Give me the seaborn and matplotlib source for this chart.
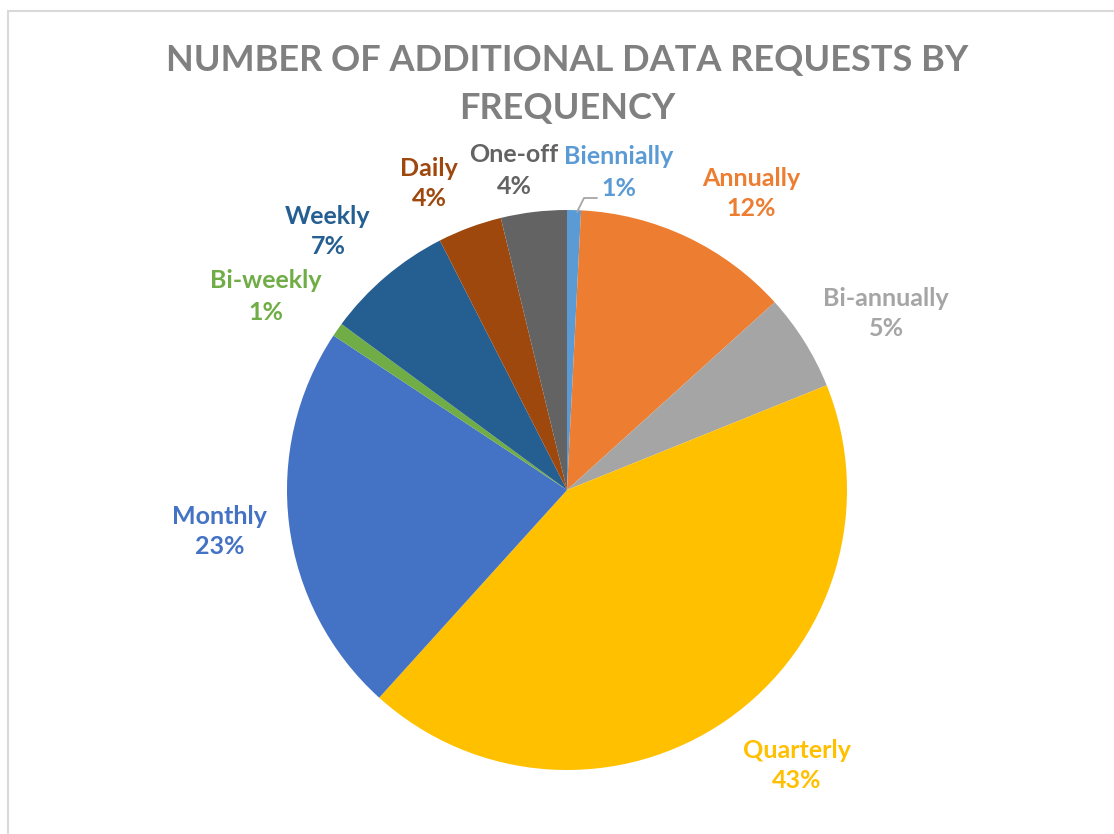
import matplotlib
matplotlib.use("Agg")
import matplotlib.pyplot as plt
import seaborn as sns
from matplotlib.lines import Line2D

categories = ["Biennially", "Annually", "Bi-annually", "Quarterly", "Monthly",
              "Bi-weekly", "Weekly", "Daily", "One-off"]
shares = [0.8, 12.5, 5.6, 42.8, 22.6, 0.8, 7.4, 3.7, 3.8]
pct_labels = ["1%", "12%", "5%", "43%", "23%", "1%", "7%", "4%", "4%"]
colors_hex = ["#5B9BD5", "#ED7D31", "#A5A5A5", "#FFC000", "#4472C4",
              "#70AD47", "#255E91", "#9E480E", "#636363"]
title_lines = ["NUMBER OF ADDITIONAL DATA REQUESTS BY", "FREQUENCY"]

# label centres in pixel coordinates (name line)
label_px = {
    "Biennially": (619, 157), "Annually": (751, 178), "Bi-annually": (886, 298),
    "Quarterly": (797, 750), "Monthly": (220, 516), "Bi-weekly": (266, 281),
    "Weekly": (328, 216), "Daily": (429, 168), "One-off": (514, 155),
}

sns.set_theme(style="white")
plt.rcParams['font.family'] = ['Lato', 'DejaVu Sans']

W, H = 1114, 834
CX, CY, R = 567, 490, 280
fig = plt.figure(figsize=(W / 100, H / 100), dpi=100)
fig.patch.set_facecolor("white")
ax = fig.add_axes([0, 0, 1, 1])

palette = sns.color_palette(colors_hex)
ax.pie(shares, colors=palette, startangle=90, counterclock=False,
       radius=1.0, center=(0, 0), wedgeprops=dict(linewidth=0))
ax.set_aspect('auto')
ax.set_xlim(-CX / R, (W - CX) / R)
ax.set_ylim(-(H - CY) / R, CY / R)
ax.axis('off')

def to_data(px, py):
    return (px - CX) / R, (CY - py) / R

for cat, pct, col in zip(categories, pct_labels, colors_hex):
    px, py = label_px[cat]
    x, y = to_data(px, py)
    ax.text(x, y, cat, color=col, fontsize=18, fontweight='bold',
            ha='center', va='center')
    x2, y2 = to_data(px, py + 31)
    ax.text(x2, y2, pct, color=col, fontsize=18, fontweight='bold',
            ha='center', va='center')

# leader line for Biennially
lx, ly = zip(to_data(577, 212), to_data(584, 198), to_data(597, 198))
ax.plot(lx, ly, color="#A6A6A6", linewidth=1.3)

for line, ty in zip(title_lines, [60, 108]):
    fig.text(567 / W, 1 - ty / H, line, ha='center', va='center',
             fontsize=26, fontweight='bold', color="#808080")

# chart frame
frame_kw = dict(color="#D9D9D9", linewidth=1.5, transform=fig.transFigure)
fig.add_artist(Line2D([8 / W, 1.0], [1 - 11 / H, 1 - 11 / H], **frame_kw))
fig.add_artist(Line2D([8 / W, 8 / W], [0, 1 - 11 / H], **frame_kw))

fig.savefig("out.png", dpi=100, facecolor="white")
